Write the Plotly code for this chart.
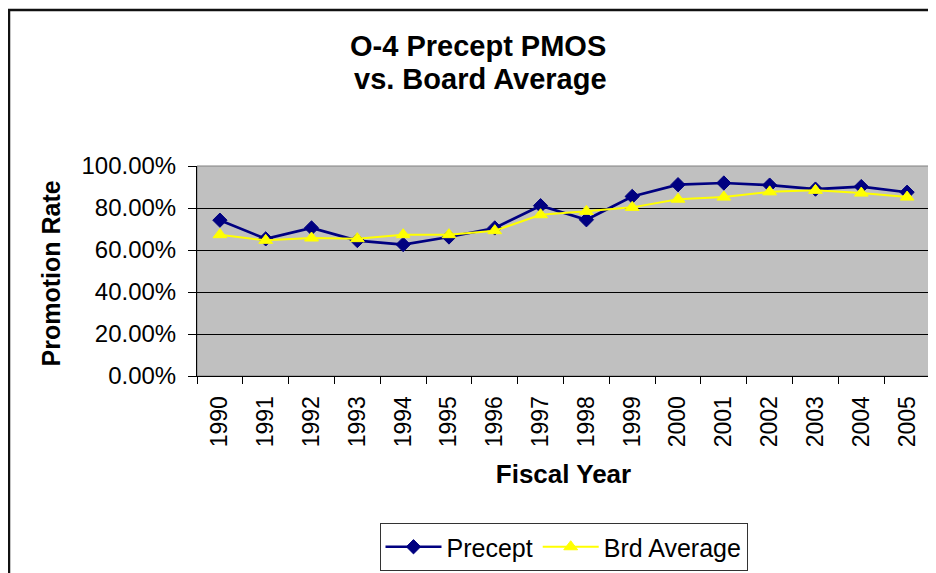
import plotly.graph_objects as go

years = [str(y) for y in range(1990, 2006)]
precept = [0.742, 0.653, 0.705, 0.645, 0.626, 0.662, 0.705, 0.811,
           0.744, 0.855, 0.911, 0.919, 0.909, 0.890, 0.902, 0.875]
brd_avg = [0.673, 0.646, 0.657, 0.654, 0.673, 0.673, 0.692, 0.768,
           0.784, 0.803, 0.842, 0.852, 0.877, 0.884, 0.871, 0.852]

FONT = "Liberation Sans, Arial, sans-serif"

# page offset (body margin) and plot area in window pixels
OFF = 8
L, R, T, B = 197 - OFF, 930 - OFF, 166 - OFF, 377 - OFF
W, H = 936, 573
pw, ph = R - L, B - T


def px_x(x):
    return (x - OFF - L) / pw


def px_y(y):
    return (B - (y - OFF)) / ph


fig = go.Figure()
fig.add_trace(go.Scatter(
    x=years, y=precept, name="Precept", mode="lines+markers",
    line=dict(color="#000080", width=2.7),
    marker=dict(symbol="diamond", size=11, color="#000080",
                line=dict(color="#000080", width=1)),
))
fig.add_trace(go.Scatter(
    x=years, y=brd_avg, name="Brd Average", mode="lines+markers",
    line=dict(color="#FFFF00", width=2),
    marker=dict(symbol="triangle-up", size=12, color="#FFFF00",
                line=dict(color="#FFFF00", width=1)),
))

fig.update_layout(
    width=W, height=H,
    margin=dict(l=L, r=W - R, t=T, b=H - B),
    paper_bgcolor="white",
    plot_bgcolor="#C0C0C0",
    font=dict(family=FONT, size=23, color="black"),
    showlegend=True,
    legend=dict(
        orientation="h", x=0.5, xanchor="center",
        y=px_y(523), yanchor="top",
        bgcolor="white", bordercolor="#333333", borderwidth=1,
        font=dict(size=25, family=FONT, color="black"),
        itemwidth=56, tracegroupgap=0,
    ),
    xaxis=dict(
        type="category", tickson="boundaries",
        ticks="outside", ticklen=7, tickcolor="black", tickwidth=1,
        showline=True, linecolor="black", linewidth=1,
        showgrid=False, tickangle=-90, ticklabelstandoff=10,
        tickfont=dict(size=23, family=FONT),
        title=dict(text="<b>Fiscal Year</b>", font=dict(size=26, family=FONT),
                   standoff=18),
        range=[-0.5, 15.5], fixedrange=True,
    ),
    yaxis=dict(
        range=[0, 1], dtick=0.2, tickformat=".2%",
        ticks="outside", ticklen=8, tickcolor="black", tickwidth=1,
        showline=True, linecolor="black", linewidth=1,
        showgrid=True, gridcolor="black", gridwidth=1,
        zeroline=False, ticklabelstandoff=7,
        tickfont=dict(size=24, family=FONT),
        fixedrange=True,
    ),
    shapes=[
        # plot area border (gray)
        dict(type="rect", xref="paper", yref="paper", x0=0, x1=1, y0=0, y1=1,
             line=dict(color="#808080", width=1), layer="below"),
        # outer chart border
        dict(type="rect", xref="paper", yref="paper",
             x0=px_x(9), x1=px_x(960), y0=px_y(600), y1=px_y(9.2),
             line=dict(color="#111111", width=2.5)),
    ],
    annotations=[
        dict(text="<b>O-4 Precept PMOS</b>", xref="paper", yref="paper",
             x=px_x(478), y=px_y(45), xanchor="center", yanchor="middle",
             showarrow=False, font=dict(size=29, family=FONT, color="black")),
        dict(text="<b>vs. Board Average</b>", xref="paper", yref="paper",
             x=px_x(480), y=px_y(78.5), xanchor="center", yanchor="middle",
             showarrow=False, font=dict(size=29, family=FONT, color="black")),
        dict(text="<b>Promotion Rate</b>", xref="paper", yref="paper",
             x=px_x(51), y=px_y(274), xanchor="center", yanchor="middle",
             textangle=-90, showarrow=False,
             font=dict(size=25, family=FONT, color="black")),
    ],
)

fig.write_html("out.html")
